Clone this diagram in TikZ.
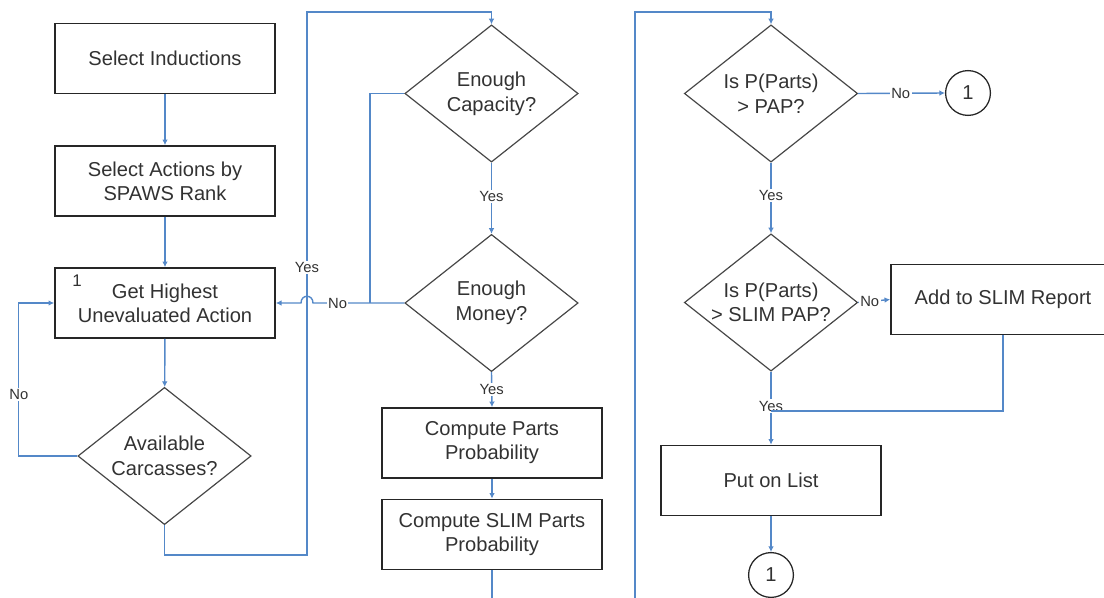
\documentclass[tikz,border=0pt]{standalone}
\usepackage{fontspec}
\setmainfont{Liberation Sans}
\usetikzlibrary{shapes.geometric,arrows.meta}
\definecolor{lineblue}{RGB}{84,136,200}
\definecolor{txt}{RGB}{50,50,50}
\begin{document}
\begin{tikzpicture}[x=0.025cm,y=-0.025cm,
  proc/.style={draw=black!85,line width=1.2pt,rectangle,minimum width=5.5cm,minimum height=1.75cm,
    align=center,inner sep=0pt,font=\fontsize{14.3}{17}\selectfont,text=txt},
  dec/.style={draw=black!72,line width=0.85pt,diamond,aspect=1.26,minimum width=4.33cm,minimum height=3.43cm,
    inner sep=0pt,align=center,font=\fontsize{14.3}{17.5}\selectfont,text=txt},
  conn/.style={draw=black!85,line width=0.9pt,circle,minimum size=1.12cm,inner sep=0pt,
    font=\fontsize{14.3}{17}\selectfont,text=txt},
  flow/.style={draw=lineblue,line width=1pt},
  arr/.style={flow,-{Latex[length=4pt,width=4pt]}},
  lbl/.style={fill=white,inner sep=1pt,font=\fontsize{10.5}{12}\selectfont,text=txt}
]
\useasboundingbox (0,0) rectangle (1104,598);
\clip (0,0) rectangle (1104,598);

% left column
\node[proc] (si) at (165,58.5) {Select Inductions};
\node[proc] (sa) at (165,181) {Select Actions by\\SPAWS Rank};
\node[proc] (gh) at (165,303) {Get Highest\\Unevaluated Action};
\node[font=\fontsize{12}{14}\selectfont,text=txt,inner sep=0pt] (one) at (77,281) {1};
\node[dec] (ac) at (164.5,456) {Available\\Carcasses?};

% middle column
\node[dec] (ec) at (491.5,93.5) {Enough\\Capacity?};
\node[dec] (em) at (491.5,303) {Enough\\Money?};
\node[proc] (cp) at (492,443) {Compute Parts\\Probability};
\node[proc] (cs) at (492,534.5) {Compute SLIM Parts\\Probability};

% right column
\node[dec] (p1) at (771,93.5) {Is P(Parts)\\> PAP?};
\node[dec] (p2) at (771,302.5) {Is P(Parts)\\> SLIM PAP?};
\node[proc,minimum width=5.6cm] (add) at (1003,299.5) {Add to SLIM Report};
\node[proc] (pl) at (771,480.5) {Put on List};
\node[conn] (c1) at (968,93) {1};
\node[conn] (c2) at (771,575) {1};

\coordinate (jn) at (370,303);
\coordinate (hopR) at (313,303);
\coordinate (hopL) at (301,303);
\coordinate (ltop) at (307,12);
\coordinate (lbot) at (307,555);
\coordinate (cbot) at (492,600);
\coordinate (rbot) at (635,600);
\coordinate (rtop) at (635,12);
\coordinate (mrg) at (771,411);

% connectors
\draw[arr] (si) -- (sa);
\draw[arr] (sa) -- (gh);
\draw[arr] (gh) -- (ac);
\draw[arr] (ac.west) -- ++(-58.5,0) |- node[lbl,pos=0.2]{No} (gh.west);
\draw[arr] (ac.south) |- (lbot) -- node[lbl,pos=0.529]{Yes} (ltop) -| (ec.north);
\draw[flow] (ec.west) -| (jn);
\draw[arr] (em.west) -- node[lbl,pos=0.73]{No} (hopR)
   .. controls (313,294) and (301,294) .. (hopL) -- (gh.east);
\draw[arr] (ec.south) -- node[lbl,pos=0.47]{Yes} (em.north);
\draw[arr] (em.south) -- node[lbl,pos=0.5]{Yes} (cp.north);
\draw[arr] (cp) -- (cs);
\draw[flow] (cs.south) -- (cbot);
\draw[arr] (rbot) -- (rtop) -| (p1.north);
\draw[arr] (p1.east) -- node[lbl,pos=0.49]{No} (c1.west);
\draw[arr] (p1.south) -- node[lbl,pos=0.47]{Yes} (p2.north);
\draw[arr] (p2.east) -- node[lbl,pos=0.36]{No} (add.west);
\draw[arr] (p2.south) -- node[lbl,pos=0.47]{Yes} (pl.north);
\draw[flow] (add.south) |- (mrg);
\draw[arr] (pl) -- (c2);
\end{tikzpicture}
\end{document}
